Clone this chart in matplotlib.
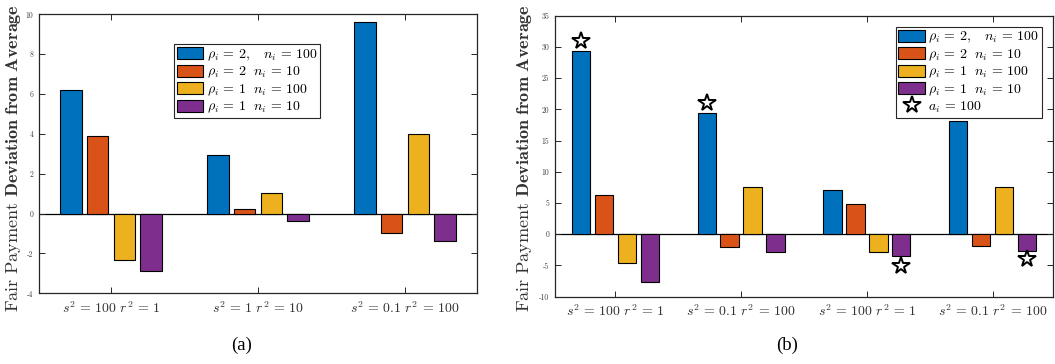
import numpy as np
import matplotlib
matplotlib.use('Agg')
import matplotlib.pyplot as plt
from matplotlib.ticker import FuncFormatter

plt.rcParams['font.family'] = 'serif'
plt.rcParams['font.serif'] = ['cmr10', 'DejaVu Serif']
plt.rcParams['mathtext.fontset'] = 'cm'
plt.rcParams['axes.unicode_minus'] = False

# ── Data ──────────────────────────────────────────────────────
groups_a = [r'$s^2\,=\,100\ r^2\,=\,1$', r'$s^2\,=\,1\ r^2\,=\,10$',
            r'$s^2\,=\,0.1\ r^2\,=\,100$']
groups_b = [r'$s^2\,=\,100\ r^2\,=\,1$', r'$s^2\,=\,0.1\ r^2\,=\,100$',
            r'$s^2\,=\,100\ r^2\,=\,1$', r'$s^2\,=\,0.1\ r^2\,=\,100$']

series_labels = [r'$\rho_i\,=\,2,\quad n_i\,=\,100$',
                 r'$\rho_i\,=\,2\ \ n_i\,=\,10$',
                 r'$\rho_i\,=\,1\ \ n_i\,=\,100$',
                 r'$\rho_i\,=\,1\ \ n_i\,=\,10$']
star_label = r'$a_i\,=\,100$'

a_rho2_n100 = [6.20, 2.92, 9.59]
a_rho2_n10 = [3.89, 0.22, -0.95]
a_rho1_n100 = [-2.32, 1.01, 3.99]
a_rho1_n10 = [-2.90, -0.39, -1.38]

b_rho2_n100 = [29.3, 19.4, 7.05, 18.1]
b_rho2_n10 = [6.25, -2.04, 4.80, -1.82]
b_rho1_n100 = [-4.55, 7.63, -2.88, 7.63]
b_rho1_n10 = [-7.70, -2.84, -3.53, -2.68]

# a_i = 100 markers: group index, series index, value
star_group = [0, 1, 2, 3]
star_series = [0, 0, 3, 3]
star_value = [31.0, 21.0, -5.08, -4.0]

COLORS = ['#0072BD', '#D95319', '#EDB120', '#7E2F8E']
GRAY = '#262626'
STEP = 0.182
WIDTH = 0.146
LEG_KW = dict(fontsize=10, frameon=True, fancybox=False, edgecolor=GRAY,
              framealpha=1, handlelength=1.9, handleheight=0.95,
              handletextpad=0.25, borderpad=0.2, labelspacing=0.15,
              borderaxespad=0)


def offsets(n):
    return (np.arange(n) - (n - 1) / 2) * STEP


def style_axes(ax, n_groups, ylim, yticks):
    pad = 0.49 if n_groups == 3 else 0.48
    ax.set_xlim(1 - pad, n_groups + pad)
    ax.set_ylim(*ylim)
    ax.set_yticks(yticks)
    ax.yaxis.set_major_formatter(FuncFormatter(lambda v, p: f'{v:g}'))
    ax.tick_params(axis='y', direction='in', length=4, width=0.7,
                   labelsize=5.5, labelcolor='#404040', color=GRAY,
                   right=True, pad=4)
    ax.tick_params(axis='x', direction='in', length=4, width=0.7,
                   labelsize=10, labelcolor='#333333', color=GRAY,
                   top=True, pad=5)
    for sp in ax.spines.values():
        sp.set_color(GRAY)
        sp.set_linewidth(0.9)
    ax.axhline(0, color='black', lw=0.9, zorder=1)


def draw_bars(ax, series, groups):
    x = np.arange(1, len(groups) + 1)
    offs = offsets(len(series))
    handles = []
    for k, vals in enumerate(series):
        h = ax.bar(x + offs[k], vals, width=WIDTH, color=COLORS[k],
                   edgecolor='black', linewidth=0.8, zorder=2,
                   label=series_labels[k])
        handles.append(h)
    ax.set_xticks(x)
    ax.set_xticklabels(groups)
    return handles


fig = plt.figure(figsize=(10.55, 3.64), dpi=100)

# ── Panel (a) ─────────────────────────────────────────────────
ax1 = fig.add_axes([39 / 1055, 1 - 293.3 / 364, 438 / 1055, 279 / 364])
h1 = draw_bars(ax1, [a_rho2_n100, a_rho2_n10, a_rho1_n100, a_rho1_n10], groups_a)
style_axes(ax1, 3, (-4, 10), np.arange(-4, 11, 2))
leg1 = ax1.legend(handles=h1, loc='upper left', bbox_to_anchor=(0.308, 0.892),
                  **LEG_KW)
leg1.get_frame().set_linewidth(0.8)

# ── Panel (b) ─────────────────────────────────────────────────
ax2 = fig.add_axes([555 / 1055, 1 - 296.7 / 364, 498 / 1055, 281 / 364])
h2 = draw_bars(ax2, [b_rho2_n100, b_rho2_n10, b_rho1_n100, b_rho1_n10], groups_b)
style_axes(ax2, 4, (-10, 35), np.arange(-10, 36, 5))
offs_b = offsets(4)
star_x = np.array(star_group) + 1 + offs_b[np.array(star_series)]
stars, = ax2.plot(star_x, star_value, ls='none', marker='*', ms=13,
                  mfc='white', mec='black', mew=1.4, zorder=3, label=star_label)
leg2 = ax2.legend(handles=h2 + [stars], loc='upper right',
                  bbox_to_anchor=(0.978, 0.96), **LEG_KW)
leg2.get_frame().set_linewidth(0.8)

# ── Labels ────────────────────────────────────────────────────
ylab = r'$\mathrm{Fair\ Payment}\ \mathbf{Deviation\ from\ Average}$'
fig.text(14 / 1055, 1 - 158 / 364, ylab, rotation=90, ha='center',
         va='center', fontsize=13.1, color='#333333')
fig.text(525 / 1055, 1 - 158 / 364, ylab, rotation=90, ha='center',
         va='center', fontsize=13.1, color='#333333')
fig.text(242 / 1055, 1 - 345 / 364, '(a)', ha='center', va='center',
         fontsize=13.5, family='Liberation Serif')
fig.text(787 / 1055, 1 - 345 / 364, '(b)', ha='center', va='center',
         fontsize=13.5, family='Liberation Serif')

fig.savefig('out.png', dpi=100)
